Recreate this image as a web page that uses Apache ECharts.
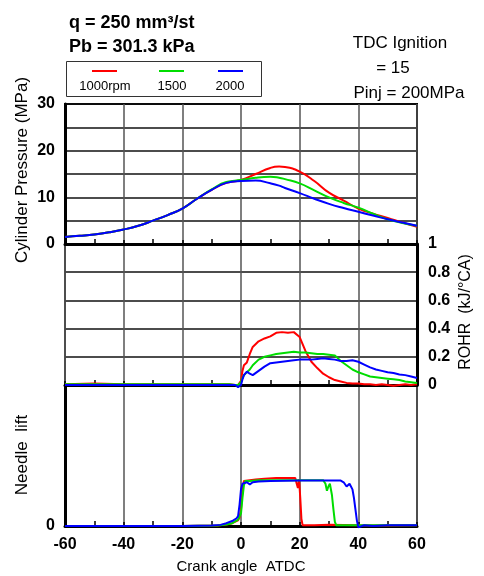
<!DOCTYPE html>
<html>
<head>
<meta charset="utf-8">
<style>
html,body{margin:0;padding:0;background:#fff;}
#chart{width:484px;height:576px;}
</style>
<script src="https://cdn.jsdelivr.net/npm/echarts@6/dist/echarts.min.js"></script>
</head>
<body>
<div id="chart"></div>
<script>
// ---- Data ----
var seriesNames = ['1000rpm', '1500', '2000'];
var xTicks = [-60, -40, -20, 0, 20, 40, 60];

// Cylinder pressure (MPa)
var pAngle = [-60,-55,-50,-45,-40,-35,-30,-25,-20,-15,-10,-5,0,5,10,13,15,20,25,30,35,40,45,50,55,60];
var pRed   = [1.5,1.75,2.05,2.5,3.1,3.9,5.0,6.2,7.6,9.7,11.6,13.1,13.7,15.0,16.3,16.6,16.5,15.5,13.5,11.0,9.3,7.6,6.5,5.6,4.6,3.7];
var pGreen = [1.5,1.75,2.05,2.5,3.1,3.9,5.0,6.2,7.6,9.7,11.7,13.3,13.7,14.2,14.4,14.2,13.9,13.0,11.5,10.0,8.8,7.8,6.5,5.3,4.5,3.9];
var pBlue  = [1.5,1.75,2.05,2.5,3.1,3.9,5.0,6.2,7.6,9.7,11.6,13.1,13.5,13.6,13.0,12.5,12.0,10.9,9.7,8.6,7.7,6.9,6.1,5.3,4.6,3.9];

// ROHR (kJ/deg CA)
var rAngle = [-60,-50,-40,-30,-20,-10,-4,-2,-1,0,0.5,1,2,3,4,6,8,10,12,14,16,18,20,22,24,26,28,30,32,34,36,38,40,42,44,46,48,50,52,54,56,58,60];
var rRed   = [0.005,0.01,0.005,0.005,0.005,0.005,0.005,0,0,0.03,0.10,0.14,0.16,0.22,0.27,0.31,0.33,0.345,0.37,0.375,0.37,0.375,0.34,0.24,0.165,0.12,0.08,0.055,0.035,0.025,0.015,0.01,0.01,0.005,0.005,0,0.005,0,-0.005,0,0.005,0,0.005];
var rGreen = [0.005,0.005,0.005,0.005,0.005,0.005,0.005,0,0,0.02,0.05,0.07,0.09,0.11,0.14,0.18,0.2,0.21,0.22,0.225,0.23,0.235,0.23,0.23,0.225,0.22,0.22,0.215,0.21,0.17,0.14,0.11,0.09,0.075,0.06,0.055,0.05,0.045,0.04,0.035,0.025,0.02,0.015];
var rBlue  = [0,0,0,0,0,0,0,0,-0.015,0,0.04,0.07,0.095,0.08,0.07,0.1,0.13,0.155,0.16,0.165,0.17,0.175,0.18,0.18,0.18,0.185,0.19,0.185,0.18,0.17,0.17,0.175,0.165,0.145,0.125,0.11,0.1,0.09,0.085,0.075,0.07,0.06,0.05];

// Needle lift (arbitrary units)
var nAngleRed = [-60,-20,-8,-5,-3,-1,-0.5,0,0.5,1,3,5,8,12,16,18.5,19,19.4,19.8,20.2,20.6,21,25,30,40,50,60];
var nRed      = [0,0,0.003,0.01,0.02,0.04,0.06,0.12,0.25,0.32,0.325,0.33,0.335,0.34,0.34,0.34,0.30,0.27,0.33,0.2,0.05,0.005,0.005,0.008,0.005,0.003,0.005];
var nAngleGreen = [-60,-20,-8,-5,-3,-1,0,0.5,1,1.5,3,6,10,15,20,25,28,28.8,29.3,29.8,30.3,31,31.5,32,32.5,35,40,50,60];
var nGreen      = [0,0,0.003,0.01,0.02,0.045,0.09,0.2,0.29,0.32,0.32,0.325,0.325,0.325,0.325,0.325,0.325,0.3,0.25,0.28,0.30,0.22,0.12,0.03,0.005,0.005,0.005,0.005,0.005];
var nAngleBlue = [-60,-20,-10,-7,-5,-3,-1.5,-1,-0.5,0,0.5,1,2,3,4,6,10,20,30,34,35,36,37,38,38.5,39,39.5,40,40.5,42,45,50,60];
var nBlue      = [0,0,0.003,0.008,0.02,0.035,0.055,0.07,0.15,0.26,0.30,0.29,0.31,0.295,0.31,0.315,0.32,0.322,0.322,0.322,0.31,0.28,0.30,0.26,0.2,0.12,0.04,-0.01,0,0.005,0,0.005,0.005];

var colors = ['#ff0000', '#00dd00', '#0000ff'];

function zip(a, b) { return a.map(function (v, i) { return [v, b[i]]; }); }

var FONT = "'Liberation Sans', Arial, Helvetica, sans-serif";
var GL = 65, GW = 352;

function xAxisFor(idx, showLabel) {
  return {
    type: 'value', gridIndex: idx, min: -60, max: 60, interval: 20,
    axisLine: { show: true, onZero: false, lineStyle: { color: '#000', width: 3 } },
    axisTick: { show: true, inside: true, length: 4, lineStyle: { color: '#000', width: 1.5 } },
    minorTick: { show: true, splitNumber: 2, length: 5, lineStyle: { color: '#000', width: 1.5 } },
    axisLabel: { show: showLabel, color: '#000', fontFamily: FONT, fontWeight: 'bold', fontSize: 16, margin: 11,
      formatter: function (v) { return xTicks.indexOf(v) >= 0 ? String(v) : ''; } },
    splitLine: { show: true, lineStyle: { color: '#555', width: 1.5 } }
  };
}

var option = {
  animation: false,
  backgroundColor: '#fff',
  grid: [
    { left: GL, top: 104, width: GW, height: 140, show: true, borderColor: '#000', borderWidth: 2, containLabel: false },
    { left: GL, top: 244, width: GW, height: 141, show: true, borderColor: '#000', borderWidth: 1.5, containLabel: false },
    { left: GL, top: 385, width: GW, height: 141, show: true, borderColor: '#000', borderWidth: 1.5, containLabel: false }
  ],
  xAxis: [xAxisFor(0, false), xAxisFor(1, false), xAxisFor(2, true)],
  yAxis: [
    { type: 'value', gridIndex: 0, min: 0, max: 30, interval: 5, position: 'left',
      axisLine: { show: true, onZero: false, lineStyle: { color: '#000', width: 3 } },
      axisTick: { show: false },
      axisLabel: { color: '#000', fontFamily: FONT, fontWeight: 'bold', fontSize: 16, margin: 10,
        formatter: function (v) { return v % 10 === 0 ? String(v) : ''; } },
      splitLine: { show: true, lineStyle: { color: '#111', width: 1.5 } } },
    { type: 'value', gridIndex: 1, min: 0, max: 1, interval: 0.2, position: 'right',
      axisLine: { show: true, onZero: false, lineStyle: { color: '#000', width: 3 } },
      axisTick: { show: false },
      axisLabel: { color: '#000', fontFamily: FONT, fontWeight: 'bold', fontSize: 16, margin: 11,
        formatter: function (v) { return (v === 0 || v === 1) ? String(v) : v.toFixed(1); } },
      splitLine: { show: true, lineStyle: { color: '#111', width: 1.5 } } },
    { type: 'value', gridIndex: 2, min: 0, max: 1, interval: 1, position: 'left',
      axisLine: { show: true, onZero: false, lineStyle: { color: '#000', width: 3 } },
      axisTick: { show: false },
      axisLabel: { color: '#000', fontFamily: FONT, fontWeight: 'bold', fontSize: 16, margin: 10,
        formatter: function (v) { return v === 0 ? '0' : ''; } },
      splitLine: { show: false } }
  ],
  series: [],
  graphic: [
    { type: 'text', x: 69, y: 23, style: { text: 'q = 250 mm\u00b3/st', font: 'bold 18px ' + FONT, fill: '#000', align: 'left', verticalAlign: 'middle', textAlign: 'left', textVerticalAlign: 'middle' } },
    { type: 'text', x: 69, y: 47, style: { text: 'Pb = 301.3 kPa', font: 'bold 18px ' + FONT, fill: '#000', align: 'left', verticalAlign: 'middle', textAlign: 'left', textVerticalAlign: 'middle' } },
    { type: 'text', x: 400, y: 43, style: { text: 'TDC Ignition', font: '17px ' + FONT, fill: '#000', align: 'center', verticalAlign: 'middle', textAlign: 'center', textVerticalAlign: 'middle' } },
    { type: 'text', x: 393, y: 68, style: { text: '= 15', font: '17px ' + FONT, fill: '#000', align: 'center', verticalAlign: 'middle', textAlign: 'center', textVerticalAlign: 'middle' } },
    { type: 'text', x: 409, y: 93, style: { text: 'Pinj = 200MPa', font: '17px ' + FONT, fill: '#000', align: 'center', verticalAlign: 'middle', textAlign: 'center', textVerticalAlign: 'middle' } },
    { type: 'rect', shape: { x: 66.5, y: 61.5, width: 195, height: 35 }, style: { fill: '#fff', stroke: '#333', lineWidth: 1 } },
    { type: 'line', shape: { x1: 92, y1: 71, x2: 117, y2: 71 }, style: { stroke: colors[0], lineWidth: 2 } },
    { type: 'line', shape: { x1: 159, y1: 71, x2: 184, y2: 71 }, style: { stroke: colors[1], lineWidth: 2 } },
    { type: 'line', shape: { x1: 218, y1: 71, x2: 243, y2: 71 }, style: { stroke: colors[2], lineWidth: 2 } },
    { type: 'text', x: 105, y: 86, style: { text: seriesNames[0], font: '13px ' + FONT, fill: '#000', align: 'center', verticalAlign: 'middle', textAlign: 'center', textVerticalAlign: 'middle' } },
    { type: 'text', x: 172, y: 86, style: { text: seriesNames[1], font: '13px ' + FONT, fill: '#000', align: 'center', verticalAlign: 'middle', textAlign: 'center', textVerticalAlign: 'middle' } },
    { type: 'text', x: 230, y: 86, style: { text: seriesNames[2], font: '13px ' + FONT, fill: '#000', align: 'center', verticalAlign: 'middle', textAlign: 'center', textVerticalAlign: 'middle' } },
    { type: 'text', x: 22, y: 170, rotation: Math.PI / 2, style: { text: 'Cylinder Pressure (MPa)', font: '17px ' + FONT, fill: '#000', align: 'center', verticalAlign: 'middle', textAlign: 'center', textVerticalAlign: 'middle' } },
    { type: 'text', x: 22, y: 455, rotation: Math.PI / 2, style: { text: 'Needle  lift', font: '17px ' + FONT, fill: '#000', align: 'center', verticalAlign: 'middle', textAlign: 'center', textVerticalAlign: 'middle' } },
    { type: 'text', x: 466, y: 312, rotation: Math.PI / 2, style: { text: 'ROHR  (kJ/\u00b0CA)', font: '16px ' + FONT, fill: '#000', align: 'center', verticalAlign: 'middle', textAlign: 'center', textVerticalAlign: 'middle' } },
    { type: 'text', x: 241, y: 567, style: { text: 'Crank angle  ATDC', font: '15px ' + FONT, fill: '#000', align: 'center', verticalAlign: 'middle', textAlign: 'center', textVerticalAlign: 'middle' } }
  ]
};

function addLine(name, data, idx, color, smooth) {
  option.series.push({
    name: name, type: 'line', xAxisIndex: idx, yAxisIndex: idx, data: data,
    showSymbol: false, symbol: 'none', smooth: smooth, clip: false,
    lineStyle: { color: color, width: 2 }, z: 3
  });
}
addLine(seriesNames[0], zip(pAngle, pRed), 0, colors[0], 0.5);
addLine(seriesNames[1], zip(pAngle, pGreen), 0, colors[1], 0.5);
addLine(seriesNames[2], zip(pAngle, pBlue), 0, colors[2], 0.5);
addLine(seriesNames[0], zip(rAngle, rRed), 1, colors[0], false);
addLine(seriesNames[1], zip(rAngle, rGreen), 1, colors[1], false);
addLine(seriesNames[2], zip(rAngle, rBlue), 1, colors[2], false);
addLine(seriesNames[0], zip(nAngleRed, nRed), 2, colors[0], false);
addLine(seriesNames[1], zip(nAngleGreen, nGreen), 2, colors[1], false);
addLine(seriesNames[2], zip(nAngleBlue, nBlue), 2, colors[2], false);

var chart = echarts.init(document.getElementById('chart'), null, { renderer: 'canvas' });
chart.setOption(option);
</script>
</body>
</html>
